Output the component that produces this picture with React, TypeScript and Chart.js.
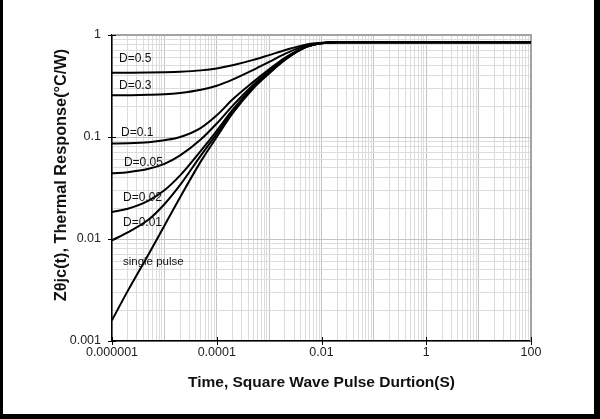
import { useEffect, useRef } from "react";
import { Chart, registerables } from "chart.js";

Chart.register(...registerables);

// Pulse duration (s)
const TIME_S = [1e-6, 2e-6, 5e-6, 1e-5, 2e-5, 5e-5, 1e-4, 2e-4, 5e-4, 1e-3, 2e-3, 5e-3, 1e-2, 2e-2, 1e-1, 1, 10, 100];

// Thermal response (°C/W)
const D_0_5 = [0.426, 0.427, 0.429, 0.432, 0.437, 0.45, 0.47, 0.505, 0.57, 0.635, 0.71, 0.805, 0.84, 0.85, 0.85, 0.85, 0.85, 0.85];
const D_0_3 = [0.256, 0.257, 0.259, 0.262, 0.27, 0.29, 0.318, 0.365, 0.455, 0.545, 0.654, 0.787, 0.836, 0.85, 0.85, 0.85, 0.85, 0.85];
const D_0_1 = [0.0862, 0.0868, 0.089, 0.093, 0.1, 0.123, 0.163, 0.233, 0.347, 0.46, 0.598, 0.769, 0.832, 0.85, 0.85, 0.85, 0.85, 0.85];
const D_0_05 = [0.044, 0.0452, 0.0488, 0.0545, 0.066, 0.095, 0.1355, 0.202, 0.325, 0.441, 0.584, 0.764, 0.831, 0.85, 0.85, 0.85, 0.85, 0.85];
const D_0_02 = [0.0184, 0.0198, 0.0238, 0.03, 0.042, 0.0735, 0.115, 0.184, 0.311, 0.429, 0.576, 0.762, 0.83, 0.85, 0.85, 0.85, 0.85, 0.85];
const D_0_01 = [0.0097, 0.0116, 0.0155, 0.0219, 0.0339, 0.066, 0.1075, 0.177, 0.3055, 0.4243, 0.573, 0.761, 0.83, 0.85, 0.85, 0.85, 0.85, 0.85];
const SINGLE_PULSE = [0.0016, 0.0031, 0.0071, 0.0135, 0.0257, 0.058, 0.1, 0.17, 0.3, 0.42, 0.57, 0.76, 0.83, 0.85, 0.85, 0.85, 0.85, 0.85];

const SERIES_NAMES = ["D=0.5", "D=0.3", "D=0.1", "D=0.05", "D=0.02", "D=0.01", "single pulse"];
const SERIES_VALUES = [D_0_5, D_0_3, D_0_1, D_0_05, D_0_02, D_0_01, SINGLE_PULSE];

// In-plot curve labels (data coordinates of the label's left/middle)
const LABEL_TEXT = ["D=0.5", "D=0.3", "D=0.1", "D=0.05", "D=0.02", "D=0.01", "single pulse"];
const LABEL_X = [1.36e-6, 1.36e-6, 1.49e-6, 1.69e-6, 1.62e-6, 1.62e-6, 1.62e-6];
const LABEL_Y = [0.58, 0.316, 0.11, 0.056, 0.0254, 0.01435, 0.006];

// Axis ticks
const X_TICK_VALUES = [1e-6, 1e-4, 1e-2, 1, 100];
const X_TICK_TEXT = ["0.000001", "0.0001", "0.01", "1", "100"];
const Y_TICK_VALUES = [0.001, 0.01, 0.1, 1];
const Y_TICK_TEXT = ["0.001", "0.01", "0.1", "1"];

const X_TITLE = "Time, Square Wave Pulse Durtion(S)";
const Y_TITLE = "Zθjc(t), Thermal Response(°C/W)";

const FONT = "'Liberation Sans', Arial, sans-serif";

function logTicks(minExp: number, maxExp: number): number[] {
  const out: number[] = [];
  for (let e = minExp; e < maxExp; e++) {
    for (let m = 1; m <= 9; m++) out.push(parseFloat((m * Math.pow(10, e)).toPrecision(12)));
  }
  out.push(Math.pow(10, maxExp));
  return out;
}

function isDecade(v: number | undefined): boolean {
  if (v === undefined || v <= 0) return false;
  const l = Math.log10(v);
  return Math.abs(l - Math.round(l)) < 1e-9;
}

function labelFor(value: number, vals: number[], texts: string[]): string {
  for (let i = 0; i < vals.length; i++) {
    if (Math.abs(Math.log10(value) - Math.log10(vals[i])) < 1e-6) return texts[i];
  }
  return "";
}

const decorPlugin = {
  id: "decor",
  beforeDatasetsDraw(chart: any) {
    const { ctx, chartArea: a } = chart;
    ctx.save();
    ctx.strokeStyle = "#a3a3a3";
    ctx.lineWidth = 2;
    ctx.beginPath();
    ctx.moveTo(a.left, a.top);
    ctx.lineTo(a.right, a.top);
    ctx.lineTo(a.right, a.bottom);
    ctx.stroke();
    ctx.restore();
  },
  afterDraw(chart: any) {
    const { ctx, chartArea: a, scales } = chart;
    const xs = scales.x;
    const ys = scales.y;
    ctx.save();
    // cross tick marks
    ctx.strokeStyle = "#000";
    ctx.lineWidth = 1;
    ctx.beginPath();
    X_TICK_VALUES.forEach((v) => {
      const px = Math.round(xs.getPixelForValue(v)) + 0.5;
      ctx.moveTo(px, a.bottom - 4);
      ctx.lineTo(px, a.bottom + 4);
    });
    Y_TICK_VALUES.forEach((v) => {
      const py = Math.round(ys.getPixelForValue(v)) + 0.5;
      ctx.moveTo(a.left - 4, py);
      ctx.lineTo(a.left + 4, py);
    });
    ctx.stroke();

    // curve labels
    ctx.fillStyle = "#111";
    ctx.textBaseline = "middle";
    ctx.textAlign = "left";
    LABEL_TEXT.forEach((t, i) => {
      ctx.font = (i === LABEL_TEXT.length - 1 ? "11.5px " : "12px ") + FONT;
      ctx.fillText(t, xs.getPixelForValue(LABEL_X[i]), ys.getPixelForValue(LABEL_Y[i]));
    });

    // y title
    ctx.translate(62, 175);
    ctx.rotate(-Math.PI / 2);
    ctx.font = "bold 16.3px " + FONT;
    ctx.textAlign = "center";
    ctx.fillStyle = "#111";
    ctx.fillText(Y_TITLE, 0, 0);
    ctx.restore();
  },
};

export default function App() {
  const ref = useRef<HTMLCanvasElement | null>(null);

  useEffect(() => {
    if (!ref.current) return;
    const chart = new Chart(ref.current, {
      type: "line",
      data: {
        datasets: SERIES_VALUES.map((vals, i) => ({
          label: SERIES_NAMES[i],
          data: TIME_S.map((t, j) => ({ x: t, y: vals[j] })),
          borderColor: "#000",
          borderWidth: 2,
          pointRadius: 0,
          fill: false,
          cubicInterpolationMode: "monotone" as const,
        })),
      },
      options: {
        animation: false,
        responsive: false,
        events: [],
        layout: { padding: { top: 35, right: 69, left: 0, bottom: 0 } },
        plugins: { legend: { display: false }, tooltip: { enabled: false } },
        scales: {
          x: {
            type: "logarithmic",
            min: 1e-6,
            max: 100,
            afterBuildTicks: (s: any) => {
              s.ticks = logTicks(-6, 2).map((v) => ({ value: v }));
            },
            afterFit: (s: any) => {
              s.height = 78;
            },
            ticks: {
              autoSkip: false,
              maxRotation: 0,
              minRotation: 0,
              padding: 4,
              color: "#222",
              font: { family: FONT, size: 12.5 },
              callback: (v: any) => labelFor(Number(v), X_TICK_VALUES, X_TICK_TEXT),
            },
            grid: {
              drawTicks: false,
              color: (c: any) => (isDecade(c.tick?.value) ? "#c4c4c4" : "#dcdcdc"),
              lineWidth: 1,
            },
            border: { display: true, color: "#000", width: 1.5 },
            title: {
              display: true,
              text: X_TITLE,
              color: "#111",
              font: { family: FONT, size: 15.5, weight: "bold" },
              padding: { top: 0, bottom: 27 },
            },
          },
          y: {
            type: "logarithmic",
            min: 0.001,
            max: 1,
            afterBuildTicks: (s: any) => {
              s.ticks = logTicks(-3, 0).map((v) => ({ value: v }));
            },
            afterFit: (s: any) => {
              s.width = 112;
            },
            ticks: {
              autoSkip: false,
              padding: 11,
              color: "#222",
              font: { family: FONT, size: 12.5 },
              callback: (v: any) => labelFor(Number(v), Y_TICK_VALUES, Y_TICK_TEXT),
            },
            grid: {
              drawTicks: false,
              color: (c: any) => (isDecade(c.tick?.value) ? "#c4c4c4" : "#dcdcdc"),
              lineWidth: 1,
            },
            border: { display: true, color: "#000", width: 1.5 },
          },
        },
      },
      plugins: [decorPlugin],
    });
    return () => chart.destroy();
  }, []);

  return (
    <div style={{ position: "absolute", left: 0, top: 0, width: 600, height: 419, background: "#fff" }}>
      <canvas ref={ref} width={600} height={419} style={{ display: "block" }} />
      <div
        style={{
          position: "absolute",
          left: 0,
          top: 0,
          width: 600,
          height: 419,
          boxSizing: "border-box",
          borderLeft: "3px solid #000",
          borderRight: "6px solid #000",
          borderBottom: "5px solid #000",
          pointerEvents: "none",
        }}
      />
    </div>
  );
}
